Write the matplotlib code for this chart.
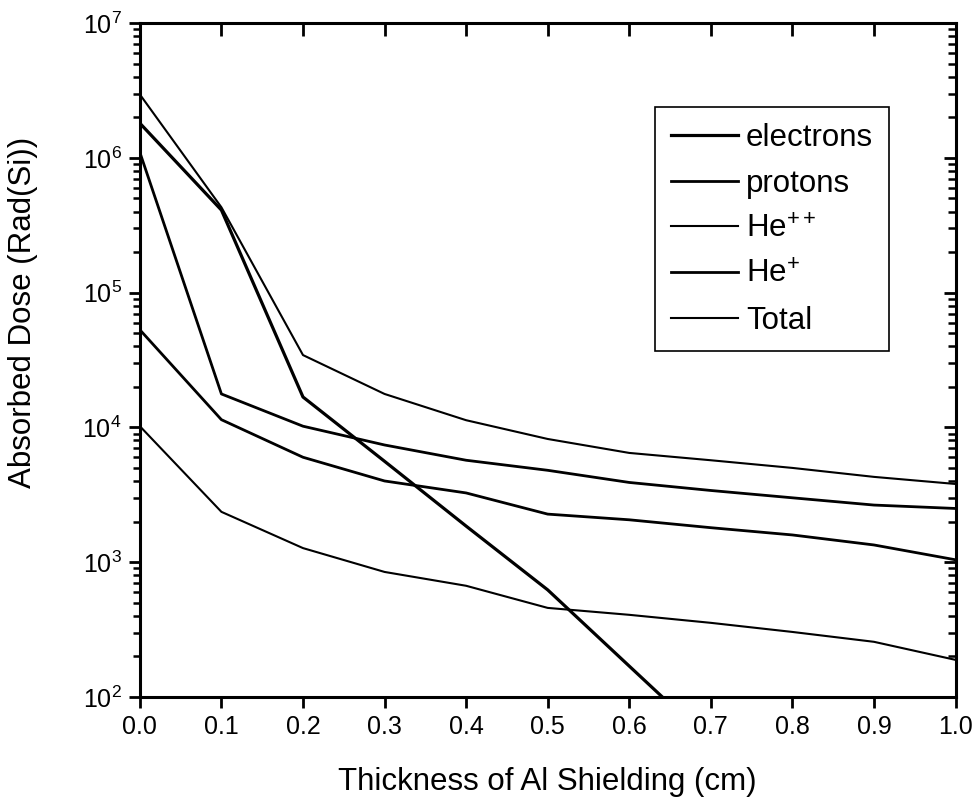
import matplotlib
matplotlib.use('Agg')
import matplotlib.pyplot as plt
from matplotlib.ticker import LogLocator, NullFormatter, MultipleLocator

plt.rcParams['font.family'] = ['Liberation Sans', 'DejaVu Sans']
plt.rcParams['mathtext.fontset'] = 'custom'
plt.rcParams['mathtext.rm'] = 'Liberation Sans'
plt.rcParams['mathtext.it'] = 'Liberation Sans'
plt.rcParams['mathtext.bf'] = 'Liberation Sans'

# Datos
thickness = [0.0, 0.1, 0.2, 0.3, 0.4, 0.5, 0.6, 0.7, 0.8, 0.9, 1.0]
electrons = [1.81e6, 4.1e5, 1.68e4, 5.6e3, 1.85e3, 622, 169, 46, 13, 4, 1.2]
protons = [1.1e6, 1.77e4, 1.02e4, 7.4e3, 5.7e3, 4.8e3, 3.9e3, 3.4e3, 3.0e3, 2.65e3, 2.5e3]
he_pp = [1.02e4, 2.36e3, 1.27e3, 845, 667, 457, 406, 354, 303, 256, 188]
he_p = [5.3e4, 1.14e4, 6.0e3, 4.0e3, 3.26e3, 2.27e3, 2.06e3, 1.8e3, 1.59e3, 1.34e3, 1.04e3]
total = [2.96e6, 4.3e5, 3.44e4, 1.77e4, 1.13e4, 8.2e3, 6.46e3, 5.7e3, 5.0e3, 4.29e3, 3.8e3]

fig = plt.figure(figsize=(9.78, 8), dpi=100)
ax = fig.add_axes([0.143, 0.129, 0.834, 0.842])

ax.plot(thickness, electrons, color='black', lw=2.3, label='electrons')
ax.plot(thickness, protons, color='black', lw=2.0, label='protons')
ax.plot(thickness, he_pp, color='black', lw=1.5, label='He$^{++}$')
ax.plot(thickness, he_p, color='black', lw=2.0, label='He$^{+}$')
ax.plot(thickness, total, color='black', lw=1.5, label='Total')

ax.set_yscale('log')
ax.set_xlim(0, 1.0)
ax.set_ylim(1e2, 1e7)
ax.xaxis.set_major_locator(MultipleLocator(0.1))
ax.yaxis.set_minor_locator(LogLocator(base=10, subs=range(2, 10)))
ax.yaxis.set_minor_formatter(NullFormatter())

for s in ax.spines.values():
    s.set_linewidth(2.2)
ax.tick_params(which='major', direction='out', length=8, width=2, labelsize=18, pad=5)
ax.tick_params(which='minor', direction='out', length=5, width=1.8)

# Ejes espejo (arriba y derecha) con marcas hacia adentro
top = ax.secondary_xaxis('top')
top.xaxis.set_major_locator(MultipleLocator(0.1))
top.tick_params(direction='in', length=9, width=2, labeltop=False)
right = ax.secondary_yaxis('right')
right.yaxis.set_minor_locator(LogLocator(base=10, subs=range(2, 10)))
right.tick_params(which='major', direction='in', length=9, width=2, labelright=False)
right.tick_params(which='minor', direction='in', length=5.5, width=1.8, labelright=False)
right.yaxis.set_minor_formatter(NullFormatter())

ax.set_xlabel('Thickness of Al Shielding (cm)', fontsize=22.5, labelpad=20)
ax.set_ylabel('Absorbed Dose (Rad(Si))', fontsize=22.5)
ax.yaxis.set_label_coords(-0.125, 0.57)

leg = ax.legend(loc='upper right', bbox_to_anchor=(0.918, 0.875), fontsize=22.5,
                fancybox=False, edgecolor='black', framealpha=1,
                handlelength=2.15, handletextpad=0.25, labelspacing=0.5,
                borderpad=0.5, borderaxespad=0)
leg.get_frame().set_linewidth(1.2)

plt.savefig('out.png', dpi=100)
